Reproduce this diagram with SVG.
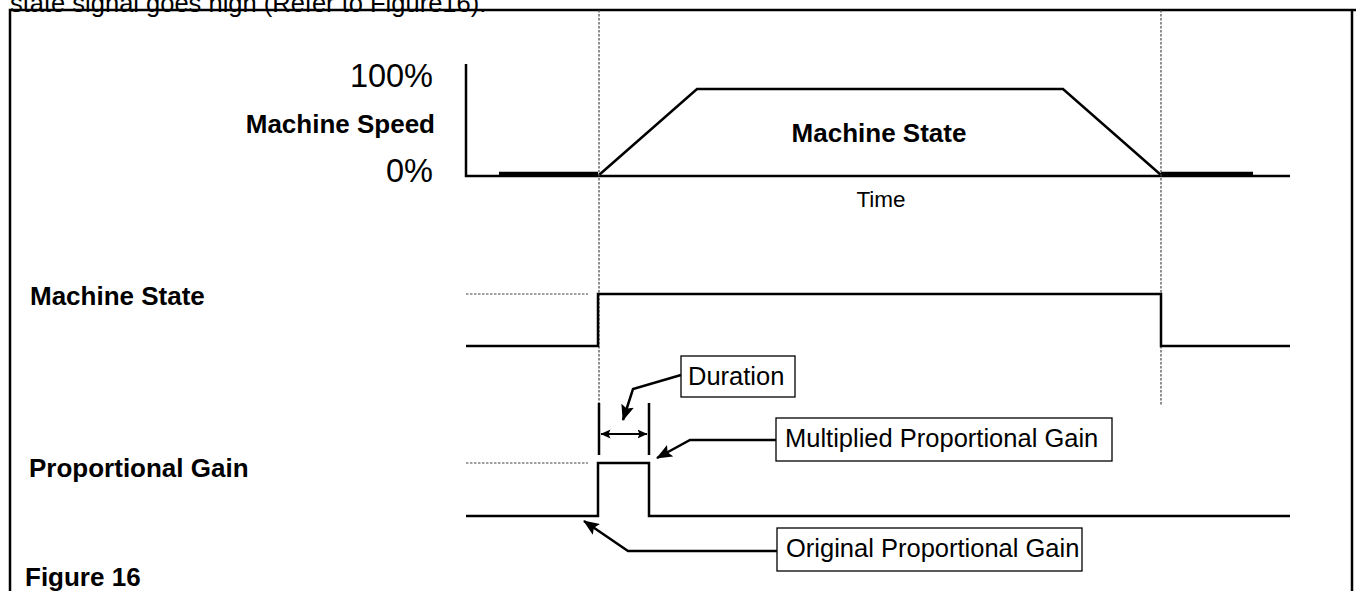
<svg xmlns="http://www.w3.org/2000/svg" width="1356" height="591" viewBox="0 0 1356 591">
<style>
.sig{fill:none;stroke:#000;stroke-width:2.5;stroke-linejoin:miter}
.thick{fill:none;stroke:#000;stroke-width:4.5}
.dash{fill:none;stroke:#444;stroke-width:1.2;stroke-dasharray:2.5 1.5}
.lead{fill:none;stroke:#000;stroke-width:2.5}
.box{fill:#fff;stroke:#000;stroke-width:1.3}
.t{font-family:"Liberation Sans",Arial,Helvetica,sans-serif;fill:#000}
.r{font-size:25.5px}
.b{font-size:26px;font-weight:bold}
.p{font-size:32.5px}
</style>
<defs>
<marker id="ah" viewBox="0 0 16 13" refX="15" refY="6.5" markerWidth="16" markerHeight="13" markerUnits="userSpaceOnUse" orient="auto">
<path d="M0,0 L16,6.5 L0,13 L3,6.5 z" fill="#000"/>
</marker>
<marker id="sh" viewBox="0 0 10 10" refX="9.5" refY="5" markerWidth="10" markerHeight="10" markerUnits="userSpaceOnUse" orient="auto-start-reverse">
<path d="M0,0.5 L10,5 L0,9.5 L2,5 z" fill="#000"/>
</marker>
</defs>
<g id="frame">
<text class="t r" x="10" y="12">state signal goes high (Refer to Figure16).</text>
<path d="M10,600 V10 H1356 M1352,10 V600" fill="none" stroke="#000" stroke-width="2.5"/>
</g>
<g id="labels">
<text class="t p" x="433" y="87" text-anchor="end">100%</text>
<text class="t p" x="433" y="182" text-anchor="end">0%</text>
<text class="t b" x="435" y="133" text-anchor="end">Machine Speed</text>
<text class="t b" x="879" y="142" text-anchor="middle">Machine State</text>
<text class="t" style="font-size:22.5px" x="881" y="207" text-anchor="middle">Time</text>
<text class="t b" x="30" y="305">Machine State</text>
<text class="t b" x="29" y="477">Proportional Gain</text>
<text class="t b" x="25" y="586">Figure 16</text>
</g>
<g id="speed-plot">
<path class="sig" d="M466,64 V176 H1290"/>
<path class="thick" d="M499,174 H598 M1161,174 H1253"/>
<path class="sig" d="M599,175 L697,89 H1063 L1161,175"/>
</g>
<g id="guides">
<path class="dash" d="M599,10 V403 M1161,10 V405"/>
<path class="dash" d="M466,294 H588 M466,463 H588"/>
</g>
<g id="machine-state-signal">
<path class="sig" d="M466,346 H598 V294 H1161 V346 H1290"/>
</g>
<g id="gain-signal">
<path class="sig" d="M466,516 H598 V463 H649 V516 H1290"/>
</g>
<g id="duration-marks">
<path class="sig" d="M599,403 V455 M649,403 V455"/>
<path class="sig" style="stroke-width:2" d="M601,434 H647" marker-start="url(#sh)" marker-end="url(#sh)"/>
</g>
<g id="duration">
<rect class="box" x="681" y="356" width="114" height="41"/>
<text class="t r" x="688" y="385">Duration</text>
</g>
<g id="multiplied">
<rect class="box" x="776" y="418" width="336" height="43"/>
<text class="t r" x="785" y="447">Multiplied Proportional Gain</text>
</g>
<g id="original">
<rect class="box" x="777" y="528" width="305" height="43"/>
<text class="t r" x="786" y="557">Original Proportional Gain</text>
</g>
<g id="connectors">
<path class="lead" d="M681,375 L633,389 L623,420" marker-end="url(#ah)"/>
<path class="lead" d="M776,440 H690 L657,458" marker-end="url(#ah)"/>
<path class="lead" d="M777,551 H628 L584,521" marker-end="url(#ah)"/>
</g>
</svg>
